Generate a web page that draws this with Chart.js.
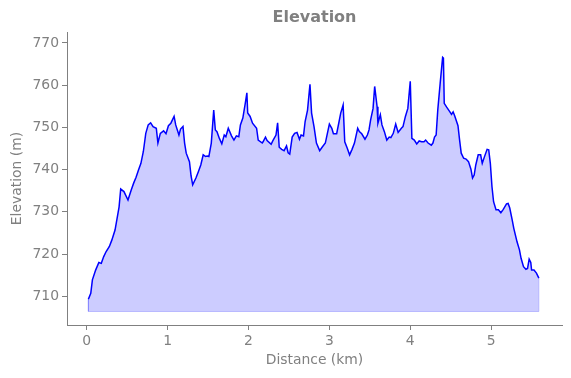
<!DOCTYPE html>
<html>
<head>
<meta charset="utf-8">
<script src="https://cdn.jsdelivr.net/npm/chart.js@4"></script>
<style>
  body { margin: 0; background: #fff; }
  #chart { display: block; }
</style>
</head>
<body>
<canvas id="chart" width="571" height="378"></canvas>
<script>
// distance along the track (km) and elevation (m)
const distanceKm = [
  0.02, 0.05, 0.07, 0.11, 0.15, 0.18, 0.21, 0.24, 0.28, 0.31,
  0.35, 0.40, 0.42, 0.46, 0.51, 0.55, 0.58, 0.61, 0.64, 0.67,
  0.70, 0.73, 0.76, 0.79, 0.82, 0.86, 0.88, 0.91, 0.95, 0.98,
  1.01, 1.04, 1.08, 1.10, 1.14, 1.16, 1.19, 1.21, 1.23, 1.27,
  1.29, 1.31, 1.35, 1.38, 1.41, 1.44, 1.47, 1.49, 1.51, 1.54,
  1.57, 1.59, 1.61, 1.64, 1.67, 1.70, 1.72, 1.75, 1.79, 1.82,
  1.85, 1.88, 1.90, 1.93, 1.96, 1.98, 1.99, 2.02, 2.05, 2.10,
  2.12, 2.17, 2.18, 2.21, 2.23, 2.28, 2.30, 2.34, 2.36, 2.38,
  2.41, 2.44, 2.47, 2.49, 2.51, 2.54, 2.57, 2.60, 2.63, 2.65,
  2.68, 2.70, 2.73, 2.76, 2.78, 2.81, 2.84, 2.88, 2.91, 2.95,
  2.98, 3.00, 3.03, 3.05, 3.09, 3.12, 3.14, 3.17, 3.19, 3.22,
  3.25, 3.28, 3.31, 3.35, 3.37, 3.40, 3.44, 3.47, 3.49, 3.51,
  3.54, 3.56, 3.59, 3.60, 3.63, 3.65, 3.68, 3.71, 3.74, 3.76,
  3.79, 3.82, 3.85, 3.89, 3.91, 3.94, 3.97, 4.00, 4.02, 4.05,
  4.08, 4.11, 4.14, 4.17, 4.19, 4.22, 4.26, 4.28, 4.30, 4.32,
  4.34, 4.37, 4.40, 4.41, 4.42, 4.45, 4.49, 4.51, 4.53, 4.55,
  4.59, 4.61, 4.63, 4.66, 4.69, 4.72, 4.75, 4.77, 4.79, 4.81,
  4.84, 4.87, 4.89, 4.92, 4.95, 4.97, 4.99, 5.01, 5.03, 5.06,
  5.09, 5.12, 5.15, 5.19, 5.21, 5.23, 5.26, 5.28, 5.32, 5.35,
  5.37, 5.40, 5.43, 5.45, 5.47, 5.49, 5.50, 5.53, 5.56, 5.59
];
const elevationM = [
  709.3, 710.7, 713.9, 716.2, 718.0, 717.8, 719.4, 720.6, 721.8, 723.3,
  725.7, 731.2, 735.4, 734.8, 732.8, 735.2, 736.8, 738.2, 739.9, 741.5,
  744.3, 748.6, 750.6, 751.1, 750.2, 749.8, 746.3, 748.6, 749.2, 748.5,
  750.4, 751.0, 752.6, 750.6, 748.2, 749.6, 750.2, 746.3, 743.9, 741.9,
  738.5, 736.4, 738.0, 739.5, 741.1, 743.5, 743.1, 743.2, 743.1, 746.3,
  754.1, 749.4, 749.0, 747.4, 746.1, 748.2, 747.8, 749.8, 748.0, 747.0,
  748.0, 747.8, 750.6, 752.2, 755.7, 758.2, 753.4, 752.6, 751.0, 749.8,
  747.0, 746.3, 746.6, 747.7, 746.9, 746.0, 746.8, 748.2, 751.1, 745.3,
  744.8, 744.5, 745.6, 744.0, 743.7, 747.7, 748.6, 748.8, 747.2, 748.2,
  748.0, 751.4, 754.1, 760.2, 753.4, 750.2, 746.3, 744.5, 745.3, 746.3,
  749.0, 750.8, 749.8, 748.5, 748.5, 751.4, 753.4, 755.3, 746.6, 745.1,
  743.5, 744.8, 746.3, 749.8, 749.0, 748.5, 747.2, 748.2, 749.4, 751.8,
  754.5, 759.7, 754.9, 751.0, 753.0, 750.6, 749.0, 747.0, 747.7, 747.6,
  748.6, 750.8, 748.8, 749.8, 750.2, 752.6, 754.5, 760.9, 747.4, 747.0,
  746.1, 746.8, 746.6, 746.6, 747.0, 746.3, 745.8, 746.3, 747.7, 748.2,
  754.1, 760.5, 766.6, 766.4, 755.7, 754.8, 753.7, 753.1, 753.7, 752.7,
  750.4, 747.0, 743.9, 742.7, 742.5, 741.9, 740.1, 738.0, 738.7, 741.1,
  743.5, 743.5, 741.5, 743.2, 744.8, 744.7, 741.5, 736.0, 732.4, 730.5,
  730.5, 729.8, 730.6, 731.9, 732.0, 730.9, 728.1, 726.1, 722.9, 721.0,
  719.0, 717.0, 716.4, 716.6, 718.8, 718.0, 716.2, 716.2, 715.5, 714.3
];
const fillBase = 706.4;
const xTicks = [0, 1, 2, 3, 4, 5];
const yTicks = [710, 720, 730, 740, 750, 760, 770];
const xRange = [-0.244, 5.876];
const yRange = [703.2, 772.6];

const grey = '#808080';
const fontFamily = 'DejaVu Sans';
const labelSize = 13.9;

const profile = distanceKm.map((d, i) => ({ x: d, y: elevationM[i] }));
const last = distanceKm.length - 1;
// outline of the shaded area (same colour as the fill, drawn on top of it)
const fillEdge = [
  { x: distanceKm[0], y: elevationM[0] },
  { x: distanceKm[0], y: fillBase },
  { x: distanceKm[last], y: fillBase },
  { x: distanceKm[last], y: elevationM[last] }
];

// centre the title over the plot area instead of the whole canvas
const centreTitle = {
  id: 'centreTitle',
  afterLayout(chart) {
    if (chart.titleBlock) {
      chart.titleBlock.left = chart.chartArea.left;
      chart.titleBlock.right = chart.chartArea.right;
    }
  }
};

new Chart(document.getElementById('chart'), {
  type: 'line',
  data: {
    datasets: [
      {
        data: profile,
        borderColor: '#0000ff',
        borderWidth: 1.5,
        backgroundColor: 'rgba(0,0,255,0.2)',
        fill: { value: fillBase },
        pointRadius: 0,
        tension: 0
      },
      {
        data: fillEdge,
        borderColor: 'rgba(0,0,255,0.2)',
        borderWidth: 1,
        fill: false,
        pointRadius: 0,
        tension: 0
      }
    ]
  },
  plugins: [centreTitle],
  options: {
    responsive: false,
    animation: false,
    devicePixelRatio: 1,
    layout: { padding: { left: 0, right: 9, top: 0, bottom: 0 } },
    plugins: {
      legend: { display: false },
      tooltip: { enabled: false },
      title: {
        display: true,
        text: 'Elevation',
        color: grey,
        font: { family: fontFamily, size: 16, weight: 'bold', lineHeight: 1.2 },
        padding: { top: 8, bottom: 4.8 }
      }
    },
    scales: {
      x: {
        type: 'linear',
        min: xRange[0],
        max: xRange[1],
        afterBuildTicks: (axis) => { axis.ticks = xTicks.map(v => ({ value: v })); },
        afterFit: (axis) => { axis.height = 53; },
        border: { color: grey, width: 1 },
        grid: { drawOnChartArea: false, drawTicks: true, tickLength: 5, color: grey },
        ticks: { color: grey, font: { family: fontFamily, size: labelSize }, padding: 3, maxRotation: 0 },
        title: {
          display: true,
          text: 'Distance (km)',
          color: grey,
          font: { family: fontFamily, size: labelSize, lineHeight: 1.2 },
          padding: { top: 0, bottom: 9 }
        }
      },
      y: {
        min: yRange[0],
        max: yRange[1],
        afterBuildTicks: (axis) => { axis.ticks = yTicks.map(v => ({ value: v })); },
        afterFit: (axis) => { axis.width = 67; },
        border: { color: grey, width: 1 },
        grid: { drawOnChartArea: false, drawTicks: true, tickLength: 5, color: grey },
        ticks: { color: grey, font: { family: fontFamily, size: labelSize }, padding: 3 },
        title: {
          display: true,
          text: 'Elevation (m)',
          color: grey,
          font: { family: fontFamily, size: labelSize, lineHeight: 1.2 },
          padding: { top: 9, bottom: 0 }
        }
      }
    }
  }
});
</script>
</body>
</html>
